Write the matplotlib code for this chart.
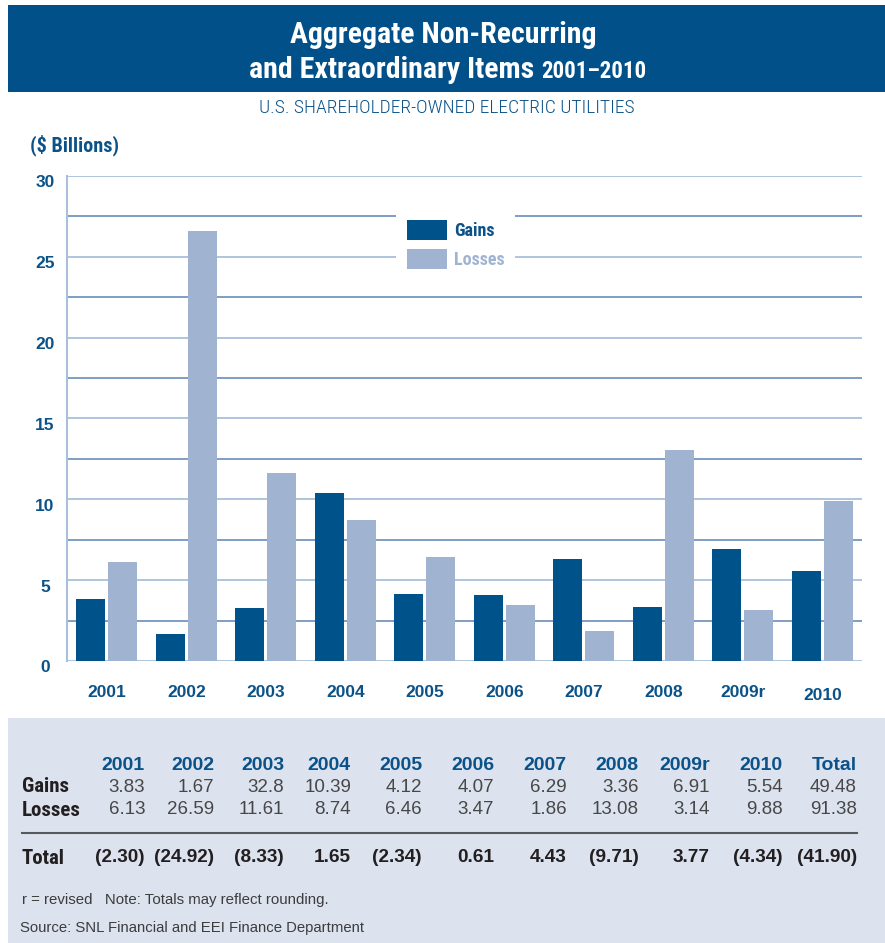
#!/usr/bin/env python3
"""Aggregate non-recurring and extraordinary items, 2001-2010, with data table."""

import matplotlib
matplotlib.use("Agg")
import matplotlib.pyplot as plt
import matplotlib.transforms as mtransforms
from matplotlib.patches import Rectangle
import numpy as np

W, H = 885, 943

years = ["2001", "2002", "2003", "2004", "2005", "2006", "2007", "2008", "2009r", "2010"]
gains = [3.83, 1.67, 3.28, 10.39, 4.12, 4.07, 6.29, 3.36, 6.91, 5.54]
losses = [6.13, 26.59, 11.61, 8.74, 6.46, 3.47, 1.86, 13.08, 3.14, 9.88]
y_ticks = [0, 5, 10, 15, 20, 25, 30]

table_cols = years + ["Total"]
gains_text = ["3.83", "1.67", "32.8", "10.39", "4.12", "4.07", "6.29", "3.36", "6.91", "5.54", "49.48"]
losses_text = ["6.13", "26.59", "11.61", "8.74", "6.46", "3.47", "1.86", "13.08", "3.14", "9.88", "91.38"]
totals_text = ["(2.30)", "(24.92)", "(8.33)", "1.65", "(2.34)", "0.61", "4.43", "(9.71)", "3.77", "(4.34)", "(41.90)"]

DARK = "#00538a"
LIGHT = "#a0b4d2"
TEXT_BLUE = "#0b5288"
GRID_A = "#a9bfda"
GRID_B = "#7596c0"
TABLE_BG = "#dce3ef"

COND = ["Roboto Condensed", "Liberation Sans Narrow", "DejaVu Sans"]
PLAIN = ["Liberation Sans", "DejaVu Sans"]


def px(x, y):
    """Pixel position (from top-left) to figure fraction."""
    return x / W, 1 - y / H


fig = plt.figure(figsize=(W / 100, H / 100), dpi=100)

# header banner
fig.patches.append(Rectangle(px(8, 92), (W - 8) / W, 87 / H, transform=fig.transFigure,
                             facecolor="#01508a", edgecolor="none", zorder=0))
fig.text(*px(443, 35), "Aggregate Non-Recurring", ha="center", va="center",
         color="white", fontsize=21.5, fontweight="bold", family=COND)
fig.text(*px(541, 70), "and Extraordinary Items ", ha="right", va="center",
         color="white", fontsize=21.5, fontweight="bold", family=COND)
fig.text(*px(541, 71), "2001\u20132010", ha="left", va="center",
         color="white", fontsize=16.5, fontweight="bold", family=COND)
fig.text(*px(447, 108), "U.S. SHAREHOLDER-OWNED ELECTRIC UTILITIES", ha="center", va="center",
         color=TEXT_BLUE, fontsize=14, fontweight="light", family=COND)
fig.text(*px(30, 145), "($ Billions)", ha="left", va="center",
         color=TEXT_BLUE, fontsize=14.5, fontweight="bold", family=COND)

# table panel
fig.patches.append(Rectangle(px(8, H), (W - 8) / W, (H - 718) / H, transform=fig.transFigure,
                             facecolor=TABLE_BG, edgecolor="none", zorder=0))

# bar chart
ax = fig.add_axes([67 / W, (H - 661) / H, 795 / W, 485 / H])
x = np.arange(len(years)) + 0.5
bw = 0.365
gap = 0.038
ax.bar(x - bw / 2 - gap / 2, gains, bw, color=DARK, zorder=3, label="Gains")
ax.bar(x + bw / 2 + gap / 2, losses, bw, color=LIGHT, zorder=3, label="Losses")

for lvl in np.arange(0, 30.1, 2.5):
    c = GRID_A if lvl % 5 == 0 else GRID_B
    ax.axhline(lvl, color=c, linewidth=1.3, zorder=1)

ax.set_xlim(0, len(years))
ax.set_ylim(0, 30)
for side in ["top", "right", "bottom"]:
    ax.spines[side].set_visible(False)
ax.spines["left"].set_color(GRID_A)
ax.spines["left"].set_linewidth(1.5)

# y labels sit centred left of the axis, a little below their gridline
ax.set_yticks([])
ylab_tf = ax.get_yaxis_transform() + mtransforms.ScaledTranslation(-22 / 100, -7 / 100, fig.dpi_scale_trans)
for v in y_ticks:
    ax.text(0, v, str(v), transform=ylab_tf, ha="center", va="center", color=TEXT_BLUE,
            fontsize=12.5, fontweight="bold", family=PLAIN)

ax.set_xticks(x)
ax.set_xticklabels(years)
ax.tick_params(axis="x", length=0, pad=17, labelcolor=TEXT_BLUE, labelsize=12.5)
for lab in ax.get_xticklabels():
    lab.set_fontweight("bold")
    lab.set_family(PLAIN)
# the last year label sits a touch lower
last = ax.get_xticklabels()[-1]
last.set_transform(last.get_transform() + mtransforms.ScaledTranslation(0, -3 / 100, fig.dpi_scale_trans))

leg = ax.legend(loc="upper left", bbox_to_anchor=((396 - 67) / 795, (661 - 209) / 485),
                frameon=True, facecolor="white", edgecolor="none", framealpha=1,
                handlelength=2.2, handleheight=1.35, labelspacing=0.5,
                handletextpad=0.4, borderpad=0.6, borderaxespad=0,
                prop={"family": COND, "weight": "bold", "size": 13})
leg.set_zorder(5)
leg.get_texts()[0].set_color(TEXT_BLUE)
leg.get_texts()[1].set_color(LIGHT)

# data table
col_right = [145, 214, 284, 351, 422, 494, 567, 639, 710, 783, 857]
for cx, head, g, l, t in zip(col_right, table_cols, gains_text, losses_text, totals_text):
    fig.text(*px(cx, 765), head, ha="right", va="center", color=TEXT_BLUE,
             fontsize=14, fontweight="bold", family=PLAIN)
    fig.text(*px(cx, 787), g, ha="right", va="center", color="#474747",
             fontsize=13.5, family=PLAIN)
    fig.text(*px(cx, 810), l, ha="right", va="center", color="#474747",
             fontsize=13.5, family=PLAIN)
    fig.text(*px(cx, 858), t, ha="right", va="center", color="#231f20",
             fontsize=13.7, fontweight="bold", family=PLAIN)

for label, y in [("Gains", 787), ("Losses", 810), ("Total", 858)]:
    fig.text(*px(22, y), label, ha="left", va="center", color="#231f20",
             fontsize=15, fontweight="bold", family=COND)

fig.add_artist(plt.Line2D([22 / W, 857 / W], [1 - 833 / H] * 2, transform=fig.transFigure,
                          color="#58595b", linewidth=1.5))

fig.text(*px(22, 900), "r = revised   Note: Totals may reflect rounding.", ha="left", va="center",
         color="#3c3c3c", fontsize=10.8, family=PLAIN)
fig.text(*px(20, 928), "Source: SNL Financial and EEI Finance Department", ha="left", va="center",
         color="#3c3c3c", fontsize=10.7, family=PLAIN)

fig.savefig("out.png", dpi=100)
